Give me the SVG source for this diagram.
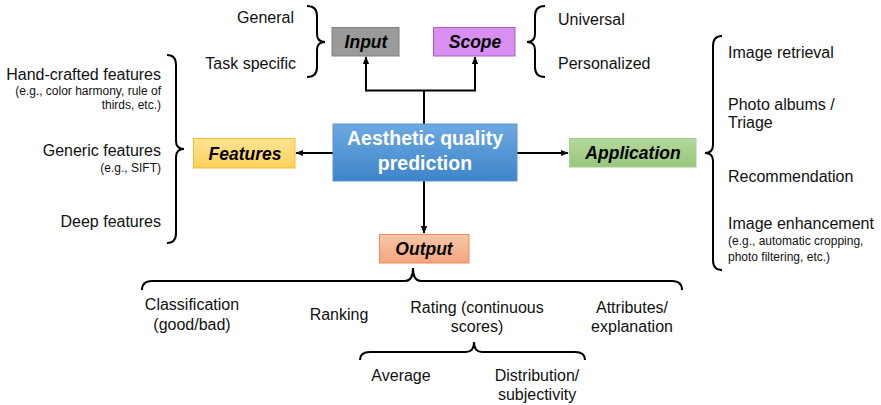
<svg xmlns="http://www.w3.org/2000/svg" width="881" height="405" viewBox="0 0 881 405">
<defs>
<marker id="ah" viewBox="0 0 10 10" refX="9" refY="5" markerWidth="4" markerHeight="4" orient="auto" markerUnits="strokeWidth">
<path d="M0,1 L10,5 L0,9 z" fill="#000"/>
</marker>
<linearGradient id="gBlue" x1="0" y1="0" x2="0" y2="1"><stop offset="0" stop-color="#6ea8e0"/><stop offset="1" stop-color="#3d85c9"/></linearGradient>
<linearGradient id="gYel" x1="0" y1="0" x2="0" y2="1"><stop offset="0" stop-color="#ffe394"/><stop offset="1" stop-color="#ffd15c"/></linearGradient>
<linearGradient id="gGrn" x1="0" y1="0" x2="0" y2="1"><stop offset="0" stop-color="#b4d89c"/><stop offset="1" stop-color="#98c77a"/></linearGradient>
<linearGradient id="gOrg" x1="0" y1="0" x2="0" y2="1"><stop offset="0" stop-color="#f9c6a8"/><stop offset="1" stop-color="#f4a67e"/></linearGradient>
</defs>
<style>
text{font-family:"Liberation Sans",Arial,Helvetica,sans-serif;fill:#111}
.t{font-size:16px}
.s{font-size:12px}
.b{font-size:17.5px;font-weight:bold;font-style:italic;text-anchor:middle;fill:#000}
.c{font-size:19.5px;font-weight:bold;text-anchor:middle;fill:#fff}
.r{text-anchor:end}
.m{text-anchor:middle}
.br{fill:none;stroke:#000;stroke-width:2}
.cn{fill:none;stroke:#000;stroke-width:2}
</style>

<g id="connectors">
<path class="cn" d="M424,124 L424,90.5 M366,90.5 L475,90.5" />
<path class="cn" d="M366,91.5 L366,57" marker-end="url(#ah)"/>
<path class="cn" d="M475,91.5 L475,57" marker-end="url(#ah)"/>
<path class="cn" d="M333,153 L296,153" marker-end="url(#ah)"/>
<path class="cn" d="M517,153 L568,153" marker-end="url(#ah)"/>
<path class="cn" d="M424,181 L424,233" marker-end="url(#ah)"/>
</g>

<g id="center">
<rect x="333" y="124" width="184" height="57" fill="url(#gBlue)" stroke="#5a95cf" stroke-width="1"/>
<text class="c" x="425" y="145">Aesthetic quality</text>
<text class="c" x="425" y="170">prediction</text>
</g>

<g id="input">
<rect x="332" y="27.5" width="67" height="28.5" fill="#9a9a9a" stroke="#808080" stroke-width="1"/>
<text class="b" x="366" y="48">Input</text>
</g>

<g id="scope">
<rect x="433.5" y="27.5" width="81.5" height="28.5" fill="#d98ff2" stroke="#a85dc8" stroke-width="1"/>
<text class="b" x="475" y="48">Scope</text>
</g>

<g id="features">
<rect x="193.5" y="138.5" width="101.5" height="29.5" fill="url(#gYel)" stroke="#f5bd2a" stroke-width="1"/>
<text class="b" x="245" y="159.5">Features</text>
</g>

<g id="application">
<rect x="569.5" y="138.5" width="126.5" height="28.5" fill="url(#gGrn)" stroke="#a3cf8a" stroke-width="1"/>
<text class="b" x="633" y="159">Application</text>
</g>

<g id="output">
<rect x="379.5" y="234.5" width="89.5" height="28.5" fill="url(#gOrg)" stroke="#ed8b55" stroke-width="1"/>
<text class="b" x="424" y="255">Output</text>
</g>

<g id="input-options">
<path class="br" d="M307,6 Q317,6 317,16 L317,34 Q317,42 325,42 Q317,42 317,50 L317,67 Q317,77 307,77"/>
<text class="t r" x="294" y="23">General</text>
<text class="t r" x="296" y="69">Task specific</text>
</g>

<g id="scope-options">
<path class="br" d="M545,6 Q535,6 535,16 L535,34 Q535,42 527,42 Q535,42 535,50 L535,67 Q535,77 545,77"/>
<text class="t" x="558" y="25">Universal</text>
<text class="t" x="558" y="69">Personalized</text>
</g>

<g id="feature-options">
<path class="br" d="M167,55 Q176,55 176,65 L176,141 Q176,149 184,149 Q176,149 176,157 L176,233 Q176,243 167,243"/>
<text class="t r" x="161" y="80">Hand-crafted features</text>
<text class="s r" x="161" y="95">(e.g., color harmony, rule of</text>
<text class="s r" x="161" y="109">thirds, etc.)</text>
<text class="t r" x="161" y="156">Generic features</text>
<text class="s r" x="161" y="172">(e.g., SIFT)</text>
<text class="t r" x="161" y="227">Deep features</text>
</g>

<g id="application-options">
<path class="br" d="M722,36 Q713,36 713,46 L713,145 Q713,153 705,153 Q713,153 713,161 L713,260 Q713,270 722,270"/>
<text class="t" x="728" y="58">Image retrieval</text>
<text class="t" x="728" y="110">Photo albums /</text>
<text class="t" x="728" y="128">Triage</text>
<text class="t" x="728" y="182">Recommendation</text>
<text class="t" x="728" y="229">Image enhancement</text>
<text class="s" x="728" y="245">(e.g., automatic cropping,</text>
<text class="s" x="728" y="261">photo filtering, etc.)</text>
</g>

<g id="output-options">
<path class="br" d="M142,290 Q142,281 152,281 L405,281 Q413,281 413,268 Q413,281 421,281 L672,281 Q682,281 682,290"/>
<text class="t m" x="192" y="310">Classification</text>
<text class="t m" x="192" y="330">(good/bad)</text>
<text class="t m" x="339" y="320">Ranking</text>
<text class="t m" x="477" y="313">Rating (continuous</text>
<text class="t m" x="477" y="332">scores)</text>
<text class="t m" x="632" y="313">Attributes/</text>
<text class="t m" x="632" y="332">explanation</text>
</g>

<g id="rating-options">
<path class="br" d="M360,360 Q360,352 370,352 L466,352 Q474,352 474,342 Q474,352 482,352 L575,352 Q585,352 585,360"/>
<text class="t m" x="401" y="381">Average</text>
<text class="t m" x="537" y="381">Distribution/</text>
<text class="t m" x="537" y="400">subjectivity</text>
</g>
</svg>
